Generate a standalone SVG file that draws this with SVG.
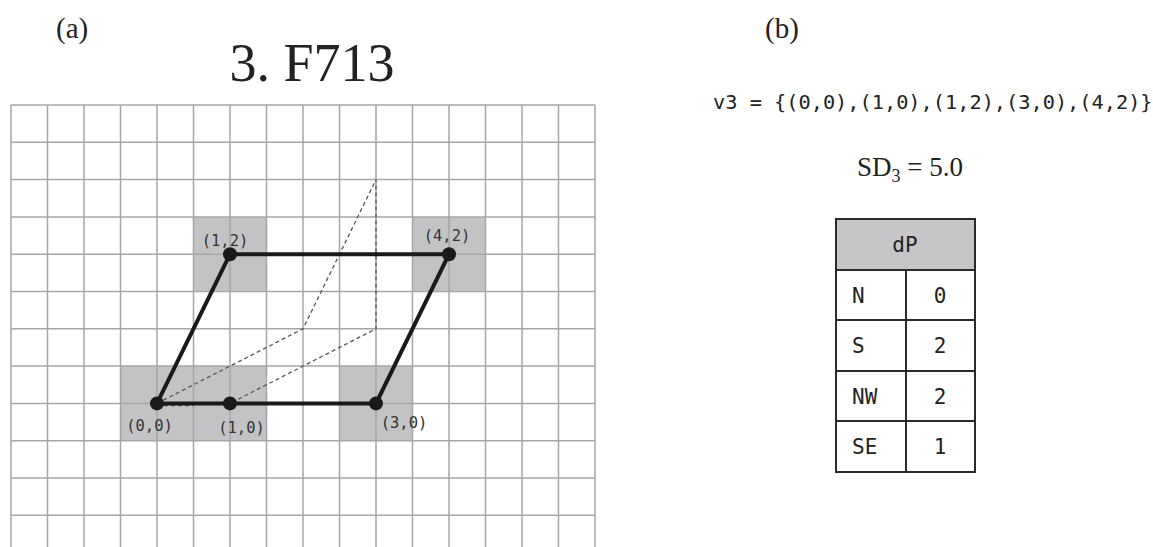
<svg xmlns="http://www.w3.org/2000/svg" width="1153" height="547" viewBox="0 0 1153 547">
<style>
.grid line{stroke:#a6a6a8;stroke-width:1.5}
.cell{fill:#c3c3c5}
.edge{stroke:#1a1a1a;stroke-width:4;fill:none;stroke-linecap:round}
.dash{stroke:#555;stroke-width:1.3;fill:none;stroke-dasharray:4 3}
.dot{fill:#1a1a1a}
.lbl{font-family:"DejaVu Sans Mono","Liberation Mono",monospace;font-size:15.5px;fill:#333}
.serif{font-family:"Liberation Serif","DejaVu Serif",serif;fill:#222}
.mono{font-family:"DejaVu Sans Mono","Liberation Mono",monospace;fill:#222}
.tb{stroke:#2a2a2a;stroke-width:2;fill:#fff}
</style>
<rect width="1153" height="547" fill="#fff"/>
<text class="serif" x="56" y="38" font-size="29">(a)</text>
<text class="serif" x="312" y="81" font-size="54" text-anchor="middle">3. F713</text>
<text class="serif" x="765" y="38" font-size="29">(b)</text>

<g id="cells">
<rect class="cell" x="193.5" y="216.9" width="73" height="74.6"/>
<rect class="cell" x="412.5" y="216.9" width="73" height="74.6"/>
<rect class="cell" x="120.5" y="366.1" width="146" height="74.6"/>
<rect class="cell" x="339.5" y="366.1" width="73" height="74.6"/>
</g>

<g id="grid" class="grid">
<line x1="11" y1="105" x2="11" y2="547"/><line x1="47.5" y1="105" x2="47.5" y2="547"/><line x1="84" y1="105" x2="84" y2="547"/><line x1="120.5" y1="105" x2="120.5" y2="547"/><line x1="157" y1="105" x2="157" y2="547"/><line x1="193.5" y1="105" x2="193.5" y2="547"/><line x1="230" y1="105" x2="230" y2="547"/><line x1="266.5" y1="105" x2="266.5" y2="547"/><line x1="303" y1="105" x2="303" y2="547"/><line x1="339.5" y1="105" x2="339.5" y2="547"/><line x1="376" y1="105" x2="376" y2="547"/><line x1="412.5" y1="105" x2="412.5" y2="547"/><line x1="449" y1="105" x2="449" y2="547"/><line x1="485.5" y1="105" x2="485.5" y2="547"/><line x1="522" y1="105" x2="522" y2="547"/><line x1="558.5" y1="105" x2="558.5" y2="547"/><line x1="595" y1="105" x2="595" y2="547"/>
<line x1="11" y1="105" x2="595" y2="105"/><line x1="11" y1="142.3" x2="595" y2="142.3"/><line x1="11" y1="179.6" x2="595" y2="179.6"/><line x1="11" y1="216.9" x2="595" y2="216.9"/><line x1="11" y1="254.2" x2="595" y2="254.2"/><line x1="11" y1="291.5" x2="595" y2="291.5"/><line x1="11" y1="328.8" x2="595" y2="328.8"/><line x1="11" y1="366.1" x2="595" y2="366.1"/><line x1="11" y1="403.4" x2="595" y2="403.4"/><line x1="11" y1="440.7" x2="595" y2="440.7"/><line x1="11" y1="478" x2="595" y2="478"/><line x1="11" y1="515.3" x2="595" y2="515.3"/>
</g>

<g id="connectors">
<path class="dash" d="M157 403.4 L303 328.8 L376 179.6 L376 328.8 L230 403.4"/>
<path class="dash" d="M157 405.5 L193 405.5"/>
<path class="edge" d="M157 403.4 L230 254.2 L449 254.2 L376 403.4 Z"/>
</g>

<g id="p00"><circle class="dot" cx="157" cy="403.4" r="7"/><text class="lbl" x="149.5" y="431" text-anchor="middle">(0,0)</text></g>
<g id="p10"><circle class="dot" cx="230" cy="403.4" r="7"/><text class="lbl" x="241.5" y="433" text-anchor="middle">(1,0)</text></g>
<g id="p30"><circle class="dot" cx="376" cy="403.4" r="7"/><text class="lbl" x="404" y="428" text-anchor="middle">(3,0)</text></g>
<g id="p12"><circle class="dot" cx="230" cy="254.2" r="7"/><text class="lbl" x="225" y="246" text-anchor="middle">(1,2)</text></g>
<g id="p42"><circle class="dot" cx="449" cy="254.2" r="7"/><text class="lbl" x="447" y="241" text-anchor="middle">(4,2)</text></g>

<text class="mono" x="713" y="109" font-size="20.3" fill="#111">v3 = {(0,0),(1,0),(1,2),(3,0),(4,2)}</text>
<text class="serif" x="857" y="176" font-size="27">SD<tspan font-size="18" dy="6">3</tspan><tspan dy="-6"> = 5.0</tspan></text>

<g id="table">
<rect x="836" y="219" width="139" height="51" fill="#c6c6c8" stroke="#2a2a2a" stroke-width="2"/>
<rect class="tb" x="836" y="270" width="70" height="50"/><rect class="tb" x="906" y="270" width="69" height="50"/>
<rect class="tb" x="836" y="320" width="70" height="51"/><rect class="tb" x="906" y="320" width="69" height="51"/>
<rect class="tb" x="836" y="371" width="70" height="50"/><rect class="tb" x="906" y="371" width="69" height="50"/>
<rect class="tb" x="836" y="421" width="70" height="51"/><rect class="tb" x="906" y="421" width="69" height="51"/>
<g class="mono" font-size="21">
<text x="905" y="252" text-anchor="middle">dP</text>
<text x="852" y="303">N</text><text x="940" y="303" text-anchor="middle">0</text>
<text x="852" y="353">S</text><text x="940" y="353" text-anchor="middle">2</text>
<text x="852" y="404">NW</text><text x="940" y="404" text-anchor="middle">2</text>
<text x="852" y="454">SE</text><text x="940" y="454" text-anchor="middle">1</text>
</g>
</g>
</svg>
